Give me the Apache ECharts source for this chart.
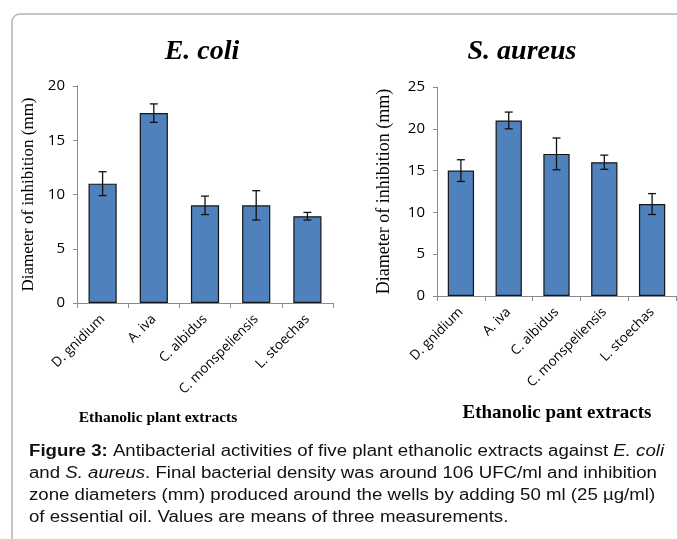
<!DOCTYPE html>
<html>
<head>
<meta charset="utf-8">
<script src="https://cdn.jsdelivr.net/npm/echarts@6/dist/echarts.min.js"></script>
<style>
  html, body { margin: 0; padding: 0; background: #fff; }
  #chart { width: 677px; height: 539px; }
</style>
</head>
<body>
<div id="chart"></div>
<script>
// plant extracts
var categories = ['D. gnidium', 'A. iva', 'C. albidus', 'C. monspeliensis', 'L. stoechas'];

// E. coli inhibition diameters (mm) and error
var ecoliValues = [11, 17.5, 9, 9, 8];
var ecoliErrors = [1.1, 0.85, 0.85, 1.35, 0.35];

// S. aureus inhibition diameters (mm) and error
var saureusValues = [15, 21, 17, 16, 11];
var saureusErrors = [1.3, 1, 1.9, 0.85, 1.25];

var ecoliTicks = [0, 5, 10, 15, 20];
var saureusTicks = [0, 5, 10, 15, 20, 25];

var barColor = '#4f81bd';
var labelFont = 'Open Sans';
var serif = 'Liberation Serif';

function errorData(values, errors) {
  return values.map(function (v, i) { return [i, v - errors[i], v + errors[i]]; });
}

function renderErrorBar(params, api) {
  var lo = api.coord([api.value(0), api.value(1)]);
  var hi = api.coord([api.value(0), api.value(2)]);
  var cap = 4;
  var style = { stroke: '#111', lineWidth: 1.3 };
  return {
    type: 'group',
    children: [
      { type: 'line', shape: { x1: hi[0], y1: hi[1], x2: lo[0], y2: lo[1] }, style: style },
      { type: 'line', shape: { x1: hi[0] - cap, y1: hi[1], x2: hi[0] + cap, y2: hi[1] }, style: style },
      { type: 'line', shape: { x1: lo[0] - cap, y1: lo[1], x2: lo[0] + cap, y2: lo[1] }, style: style }
    ]
  };
}

function xAxisFor(gridIndex) {
  return {
    type: 'category',
    gridIndex: gridIndex,
    data: categories,
    axisLine: { lineStyle: { color: '#8a8a8a', width: 1 } },
    axisTick: { show: true, length: 5, lineStyle: { color: '#8a8a8a' } },
    axisLabel: { rotate: 45, margin: 14, fontFamily: labelFont, fontSize: 13.5, color: '#000', interval: 0 }
  };
}

function yAxisFor(gridIndex, ticks, nameSize, gap) {
  return {
    type: 'value',
    gridIndex: gridIndex,
    min: ticks[0],
    max: ticks[ticks.length - 1],
    interval: ticks[1] - ticks[0],
    name: 'Diameter of inhibition (mm)',
    nameLocation: 'middle',
    nameGap: gap,
    nameTextStyle: { fontFamily: serif, fontSize: nameSize, color: '#000' },
    axisLine: { show: true, lineStyle: { color: '#8a8a8a', width: 1 } },
    axisTick: { show: true, length: 4, lineStyle: { color: '#8a8a8a' } },
    axisLabel: { margin: 12, fontFamily: labelFont, fontSize: 15, color: '#000' },
    splitLine: { show: false }
  };
}

var chart = echarts.init(document.getElementById('chart'));

chart.setOption({
  animation: false,
  grid: [
    { left: 77, top: 86, width: 256, height: 217 },
    { left: 437, top: 87, width: 239, height: 209 }
  ],
  xAxis: [xAxisFor(0), xAxisFor(1)],
  yAxis: [yAxisFor(0, ecoliTicks, 17, 40), yAxisFor(1, saureusTicks, 18, 44)],
  series: [
    {
      type: 'bar', xAxisIndex: 0, yAxisIndex: 0, data: ecoliValues, barWidth: '55%',
      itemStyle: { color: barColor, borderColor: '#151515', borderWidth: 1.2 }
    },
    {
      type: 'custom', xAxisIndex: 0, yAxisIndex: 0, data: errorData(ecoliValues, ecoliErrors),
      renderItem: renderErrorBar, z: 5
    },
    {
      type: 'bar', xAxisIndex: 1, yAxisIndex: 1, data: saureusValues, barWidth: '55%',
      itemStyle: { color: barColor, borderColor: '#151515', borderWidth: 1.2 }
    },
    {
      type: 'custom', xAxisIndex: 1, yAxisIndex: 1, data: errorData(saureusValues, saureusErrors),
      renderItem: renderErrorBar, z: 5
    }
  ],
  graphic: [
    {
      type: 'rect', silent: true,
      shape: { x: 12, y: 14, width: 720, height: 600, r: 8 },
      style: { fill: 'none', stroke: '#b4b4b4', lineWidth: 1.5 }
    },
    {
      type: 'text', x: 202, y: 52,
      style: { text: 'E. coli', fontFamily: serif, fontWeight: 'bold', fontStyle: 'italic', fontSize: 28,
        fill: '#000', textAlign: 'center', textVerticalAlign: 'middle' }
    },
    {
      type: 'text', x: 522, y: 52,
      style: { text: 'S. aureus', fontFamily: serif, fontWeight: 'bold', fontStyle: 'italic', fontSize: 28,
        fill: '#000', textAlign: 'center', textVerticalAlign: 'middle' }
    },
    {
      type: 'text', x: 158, y: 418,
      style: { text: 'Ethanolic plant extracts', fontFamily: serif, fontWeight: 'bold', fontSize: 15.5,
        fill: '#000', textAlign: 'center', textVerticalAlign: 'middle' }
    },
    {
      type: 'text', x: 557, y: 413,
      style: { text: 'Ethanolic pant extracts', fontFamily: serif, fontWeight: 'bold', fontSize: 19,
        fill: '#000', textAlign: 'center', textVerticalAlign: 'middle' }
    },
    {
      // caption, stretched horizontally like the source figure
      type: 'text', x: 29, y: 441, scaleX: 1.165,
      style: {
        text: '{b|Figure 3:}{n| Antibacterial activities of five plant ethanolic extracts against }{i|E. coli}\n' +
              '{n|and }{i|S. aureus}{n|. Final bacterial density was around 106 UFC/ml and inhibition}\n' +
              '{n|zone diameters (mm) produced around the wells by adding 50 ml (25 µg/ml)}\n' +
              '{n|of essential oil. Values are means of three measurements.}',
        fontFamily: 'Liberation Sans', fontSize: 16, fill: '#111', textVerticalAlign: 'top',
        rich: {
          b: { fontFamily: 'Liberation Sans', fontWeight: 'bold', fontSize: 16, lineHeight: 22, fill: '#111' },
          n: { fontFamily: 'Liberation Sans', fontSize: 16, lineHeight: 22, fill: '#111' },
          i: { fontFamily: 'Liberation Sans', fontStyle: 'italic', fontSize: 16, lineHeight: 22, fill: '#111' }
        }
      }
    }
  ]
});
</script>
</body>
</html>
